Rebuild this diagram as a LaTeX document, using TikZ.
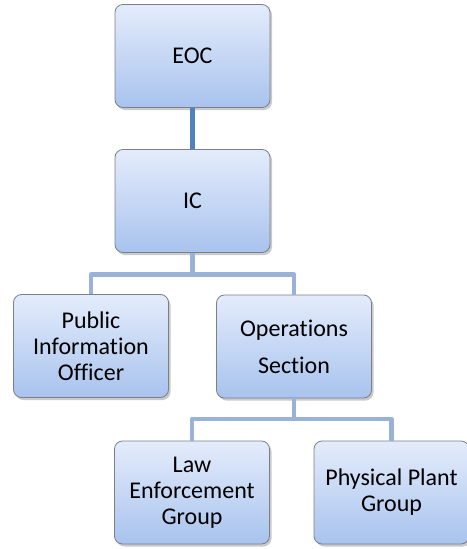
\documentclass[tikz,border=0pt]{standalone}
\usepackage{fontspec}
\setmainfont[Ligatures=NoCommon]{Carlito}
\usetikzlibrary{shadows}
\definecolor{boxtop}{HTML}{E4ECFB}
\definecolor{boxbot}{HTML}{A8C3EE}
\definecolor{boxline}{HTML}{7A7F88}
\definecolor{linkdark}{HTML}{4F81BD}
\definecolor{linklight}{HTML}{98B2D8}
\tikzset{
  unitbox/.style={rectangle, rounded corners=8pt, draw=boxline, line width=0.8pt,
    top color=boxtop, bottom color=boxbot,
    minimum width=155pt, minimum height=103pt, align=center, inner sep=0pt,
    font=\fontsize{24}{26}\selectfont,
    drop shadow={shadow xshift=2pt, shadow yshift=-2.5pt, opacity=0.35, fill=black!60}},
  toplink/.style={draw=linkdark, line width=4.5pt},
  sublink/.style={draw=linklight, line width=4.5pt, line join=round}
}
\begin{document}
\begin{tikzpicture}[x=1pt,y=-1pt]
  \useasboundingbox (0,0) rectangle (466,549);

  % command structure
  \node[unitbox] (eoc) at (192.5,56) {EOC};
  \node[unitbox] (ic)  at (192.5,201) {IC};
  \node[unitbox] (pio) at (91,346) {Public\\Information\\Officer};
  \node[unitbox] (ops) at (294,346.5) {Operations\\[11pt]Section};
  \node[unitbox] (law) at (192,492.5) {Law\\Enforcement\\Group};
  \node[unitbox] (plant) at (391.5,492.5) {Physical Plant\\Group};

  % bus lines for the branching links
  \coordinate (busic) at (0,274.5);
  \coordinate (busops) at (0,419);

  \draw[toplink] (eoc.south) -- (ic.north);
  \draw[sublink] (ic.south) -- (ic.south |- busic) -| (pio.north);
  \draw[sublink] (ic.south |- busic) -| (ops.north);
  \draw[sublink] (ops.south) -- (ops.south |- busops) -| (law.north);
  \draw[sublink] (ops.south |- busops) -| (plant.north);
\end{tikzpicture}
\end{document}
